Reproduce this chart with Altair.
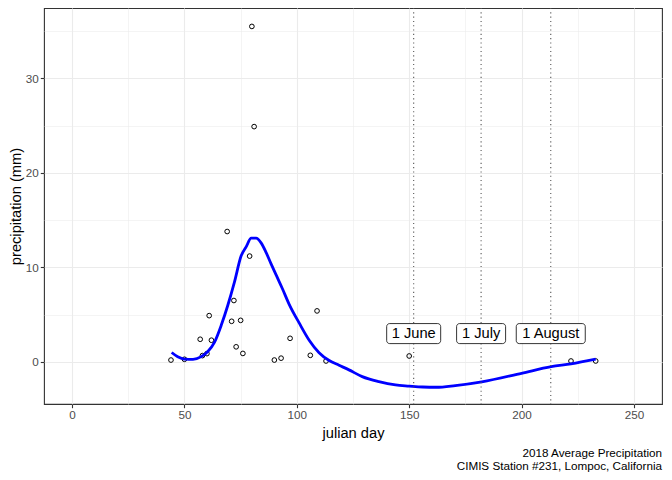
import altair as alt
import pandas as pd

# daily precipitation observations (julian day, mm)
obs_day = [44, 50, 57, 58, 60, 61, 62, 69, 71, 72, 73, 75, 76, 79, 80, 81,
           90, 93, 97, 106, 109, 113, 150, 222, 233]
obs_mm = [0.2, 0.28, 2.4, 0.67, 0.88, 4.9, 2.3, 13.8, 4.3, 6.5, 1.6, 4.4, 0.9,
          11.2, 35.5, 24.9, 0.2, 0.4, 2.5, 0.7, 5.4, 0.1, 0.63, 0.1, 0.1]

# loess curve
fit_day = [44.3, 47, 50, 53.8, 57.5, 60.4, 63.4, 66.4, 69.3, 72.3, 75.2, 77.5,
           79.7, 81.9, 84.1, 86.3, 88.5, 91, 93.5, 96.6, 101.1, 105.5, 109.9,
           114.4, 118.8, 123.2, 129.1, 136.5, 143.9, 150, 156, 162, 170.5,
           182.3, 200, 213.2, 222, 233]
fit_mm = [1.0, 0.55, 0.3, 0.28, 0.56, 1.1, 2.1, 3.9, 6.0, 8.5, 11.2, 12.2,
          13.1, 13.1, 12.6, 11.6, 10.4, 9.1, 7.8, 6.1, 4.1, 2.3, 0.98, 0.15,
          -0.35, -0.84, -1.55, -2.08, -2.43, -2.55, -2.65, -2.68, -2.5, -2.1,
          -1.2, -0.5, -0.2, 0.3]

# month markers
month_day = [152, 182, 213]
month_label = ["1 June", "1 July", "1 August"]
label_y = 3.0

caption = ["2018 Average Precipitation", "CIMIS Station #231, Lompoc, California"]

FONT = "Liberation Sans"
BOX_PX = {"1 June": 54, "1 July": 49, "1 August": 69}  # label box widths, px

obs = pd.DataFrame({"day": obs_day, "mm": obs_mm})
fit = pd.DataFrame({"day": fit_day, "mm": fit_mm})
months = pd.DataFrame({"day": month_day, "label": month_label, "ly": label_y})
months["boxw"] = months["label"].map(BOX_PX)

x_scale = alt.Scale(domain=[-12.5, 262.5], nice=False, zero=False, padding=0)
y_scale = alt.Scale(domain=[-4.45, 37.45], nice=False, zero=False, padding=0)

x_axis = alt.Axis(
    values=list(range(0, 251, 25)),
    labelExpr="datum.value % 50 == 0 ? datum.label : ''",
    gridWidth={"condition": {"test": "datum.value % 50 !== 0", "value": 0.55}, "value": 1.1},
    tickOpacity={"condition": {"test": "datum.value % 50 !== 0", "value": 0}, "value": 1},
    title="julian day",
)
y_axis = alt.Axis(
    values=list(range(-5, 36, 5)),
    labelExpr="datum.value % 10 == 0 ? datum.label : ''",
    gridWidth={"condition": {"test": "datum.value % 10 !== 0", "value": 0.55}, "value": 1.1},
    tickOpacity={"condition": {"test": "datum.value % 10 !== 0", "value": 0}, "value": 1},
    title="precipitation (mm)",
    titlePadding=2,
)

points = alt.Chart(obs).mark_point(
    filled=False, color="black", size=22, strokeWidth=1, opacity=1
).encode(
    x=alt.X("day:Q", scale=x_scale, axis=x_axis),
    y=alt.Y("mm:Q", scale=y_scale, axis=y_axis),
)

smooth = alt.Chart(fit).mark_line(
    color="#0000FF", strokeWidth=2.8, interpolate="monotone"
).encode(
    x=alt.X("day:Q", scale=x_scale),
    y=alt.Y("mm:Q", scale=y_scale),
)

vlines = alt.Chart(months).mark_rule(
    color="#555555", strokeWidth=1.1, strokeDash=[1.1, 3.2]
).encode(x=alt.X("day:Q", scale=x_scale))

boxes = alt.Chart(months).transform_calculate(
    y_lo="datum.ly - 1.06", y_hi="datum.ly + 1.06"
).mark_bar(
    fill="white", stroke="black", strokeWidth=0.8, cornerRadius=3
).encode(
    x=alt.X("day:Q", scale=x_scale),
    y=alt.Y("y_lo:Q", scale=y_scale),
    y2="y_hi:Q",
    size=alt.Size("boxw:Q", scale=None, legend=None),
)

texts = alt.Chart(months).mark_text(
    font=FONT, fontSize=14.67, color="black", baseline="middle", align="center"
).encode(
    x=alt.X("day:Q", scale=x_scale),
    y=alt.Y("ly:Q", scale=y_scale),
    text="label:N",
)

chart = alt.layer(points, smooth, vlines, boxes, texts).properties(
    width=618,
    height=396,
    autosize=alt.AutoSizeParams(type="none"),
    padding={"left": 36, "top": 0, "right": 2, "bottom": 68},
    title=alt.TitleParams(
        text=caption, orient="bottom", anchor="end", font=FONT,
        fontSize=11.7, fontWeight="normal", color="black", lineHeight=13, offset=8,
    ),
).configure_view(
    stroke="#333333", strokeWidth=1.1
).configure_axis(
    domain=False,
    grid=True,
    gridColor="#EBEBEB",
    tickColor="#333333",
    tickWidth=1.1,
    tickSize=3.7,
    labelFont=FONT,
    labelFontSize=11.7,
    labelColor="#4D4D4D",
    labelPadding=2,
    titleFont=FONT,
    titleFontSize=14.67,
    titleFontWeight="normal",
    titleColor="black",
    titlePadding=4,
)

chart.save("out.html", embed_options={"renderer": "svg", "actions": False})
